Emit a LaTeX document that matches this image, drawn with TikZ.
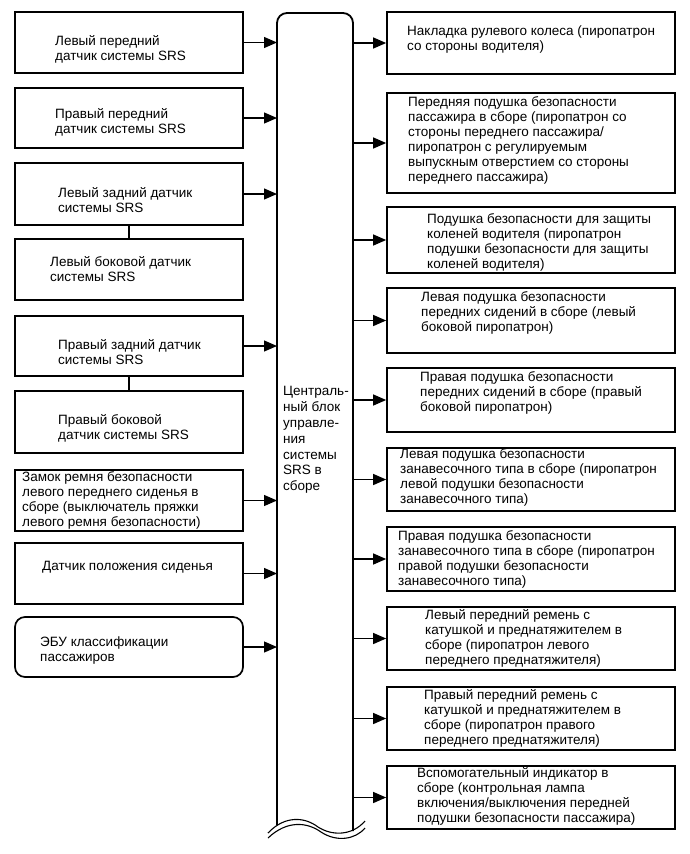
\documentclass[tikz,border=0pt]{standalone}
\usepackage{fontspec}
\setmainfont{Liberation Sans}
\usetikzlibrary{arrows.meta}
\begin{document}
\begin{tikzpicture}[x=1pt,y=-1pt,
  box/.style={draw=black,line width=1.7pt,inner sep=0pt},
  lbox/.style={box,minimum width=228pt},
  rbox/.style={box,minimum width=288pt},
  txt/.style={anchor=west,align=left,inner sep=0pt,font=\fontsize{13.5}{15}\selectfont},
  arr/.style={line width=1.2pt,-{Triangle[length=13pt,width=11pt]}},
  lnk/.style={line width=1.2pt},
  cbl/.style={line width=1.8pt}]
\useasboundingbox (0,0) rectangle (690,854);
% left boxes
\node[lbox,minimum height=61pt] (L1) at (129,42.5) {};
\node[lbox,minimum height=60pt] (L2) at (129,118) {};
\node[lbox,minimum height=62pt] (L3) at (129,194) {};
\node[lbox,minimum height=61pt] (L4) at (129,269.5) {};
\node[lbox,minimum height=60pt] (L5) at (129,346) {};
\node[lbox,minimum height=62pt] (L6) at (129,422) {};
\node[lbox,minimum height=61pt] (L7) at (129,500.5) {};
\node[lbox,minimum height=61pt] (L8) at (129,573.5) {};
\node[lbox,minimum height=60pt,rounded corners=10pt] (L9) at (129,647) {};
% left texts
\node[txt] (tL1) at (55,49.5) {Левый передний\\датчик системы SRS};
\node[txt] (tL2) at (55,122.5) {Правый передний\\датчик системы SRS};
\node[txt] (tL3) at (58,200.5) {Левый задний датчик\\системы SRS};
\node[txt] (tL4) at (50,269.5) {Левый боковой датчик\\системы SRS};
\node[txt] (tL5) at (58,352) {Правый задний датчик\\системы SRS};
\node[txt] (tL6) at (58,428) {Правый боковой\\датчик системы SRS};
\node[txt] (tL7) at (22,500) {Замок ремня безопасности\\левого переднего сиденья в\\сборе (выключатель пряжки\\левого ремня безопасности)};
\node[txt] (tL8) at (42,567) {Датчик положения сиденья};
\node[txt] (tL9) at (40,651) {ЭБУ классификации\\пассажиров};
% right boxes
\node[rbox,minimum height=62pt] (R1) at (531,43) {};
\node[rbox,minimum height=100pt] (R2) at (531,143) {};
\node[rbox,minimum height=66pt] (R3) at (531,240) {};
\node[rbox,minimum height=65pt] (R4) at (531,320.5) {};
\node[rbox,minimum height=64pt] (R5) at (531,400) {};
\node[rbox,minimum height=63pt] (R6) at (531,479.5) {};
\node[rbox,minimum height=64pt] (R7) at (531,559) {};
\node[rbox,minimum height=63pt] (R8) at (531,638.5) {};
\node[rbox,minimum height=63pt] (R9) at (531,718.5) {};
\node[rbox,minimum height=63pt] (R10) at (531,797.5) {};
% right texts
\node[txt] (tR1) at (407,39.5) {Накладка рулевого колеса (пиропатрон\\со стороны водителя)};
\node[txt] (tR2) at (408,140) {Передняя подушка безопасности\\пассажира в сборе (пиропатрон со\\стороны переднего пассажира/\\пиропатрон с регулируемым\\выпускным отверстием со стороны\\переднего пассажира)};
\node[txt] (tR3) at (427,242) {Подушка безопасности для защиты\\коленей водителя (пиропатрон\\подушки безопасности для защиты\\коленей водителя)};
\node[txt] (tR4) at (421,313) {Левая подушка безопасности\\передних сидений в сборе (левый\\боковой пиропатрон)};
\node[txt] (tR5) at (420,393) {Правая подушка безопасности\\передних сидений в сборе (правый\\боковой пиропатрон)};
\node[txt] (tR6) at (400,477.5) {Левая подушка безопасности\\занавесочного типа в сборе (пиропатрон\\левой подушки безопасности\\занавесочного типа)};
\node[txt] (tR7) at (398,559.5) {Правая подушка безопасности\\занавесочного типа в сборе (пиропатрон\\правой подушки безопасности\\занавесочного типа)};
\node[txt] (tR8) at (425,638) {Левый передний ремень с\\катушкой и преднатяжителем в\\сборе (пиропатрон левого\\переднего преднатяжителя)};
\node[txt] (tR9) at (424,718) {Правый передний ремень с\\катушкой и преднатяжителем в\\сборе (пиропатрон правого\\переднего преднатяжителя)};
\node[txt] (tR10) at (417,796.5) {Вспомогательный индикатор в\\сборе (контрольная лампа\\включения/выключения передней\\подушки безопасности пассажира)};
% central block
\coordinate (cl) at (277,0);
\coordinate (cr) at (353,0);
\draw[cbl,rounded corners=10pt] (277,825) -- (277,13) -- (353,13) -- (353,831);
\draw[line width=1.1pt] (268,833) .. controls (285,815) and (305,817) .. (318,827) .. controls (332,836) and (352,836) .. (365,821);
\draw[line width=1.1pt] (268,838) .. controls (287,820) and (307,822) .. (321,832) .. controls (336,842) and (355,840) .. (365,828);
\node[txt,font=\fontsize{13.5}{15.8}\selectfont] (tC) at (283,440) {Централь-\\ный блок\\управле-\\ния\\системы\\SRS в\\сборе};
% links between left boxes
\draw[lnk] (L3.south) -- (L4.north);
\draw[lnk] (L5.south) -- (L6.north);
% arrows in
\foreach \n in {L1,L2,L3,L5,L7,L8,L9} \draw[arr] (\n.east) -- (\n.east -| cl);
% arrows out
\foreach \n in {R1,R2,R3,R4,R5,R6,R7,R8,R9,R10} \draw[arr] (\n.west -| cr) -- (\n.west);
\end{tikzpicture}
\end{document}
